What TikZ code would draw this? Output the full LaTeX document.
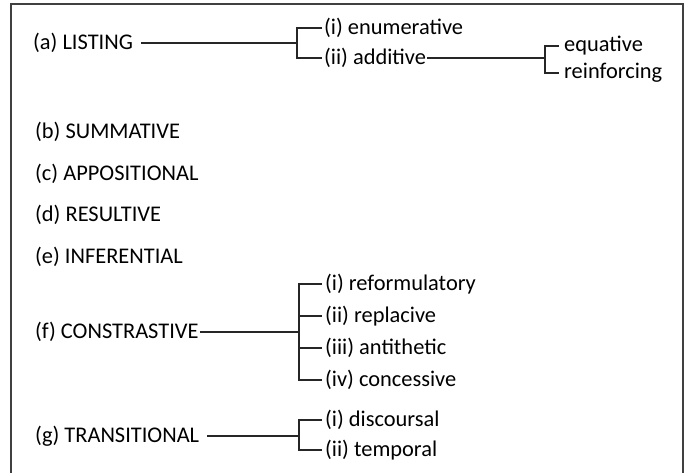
\documentclass[tikz,border=0pt]{standalone}
\usepackage{fontspec}
\setmainfont{Carlito}
\begin{document}
\begin{tikzpicture}[x=1pt,y=-1pt,
  lbl/.style={anchor=west,inner sep=0pt,font=\fontsize{22.4}{25}\selectfont},
  conn/.style={line width=1.1pt,draw=black!85}]
\useasboundingbox (0,0) rectangle (686,472);
\clip (0,0) rectangle (686,472);
\draw[line width=1.6pt,draw=black!75] (11,4) rectangle (683,495);
% (a)
\node[lbl] (a) at (33,43) {(a) LISTING};
\node[lbl] (ai) at (324,28) {(i) enumerative};
\node[lbl] (aii) at (324,58) {(ii) additive};
\node[lbl] (eq) at (564,46) {equative};
\node[lbl] (re) at (564,73) {reinforcing};
\coordinate (ba) at (297,43);
\draw[conn] ([xshift=8pt]a.east) -- (ba);
\draw[conn] ([xshift=-2pt]ai.west) -- (297,28) |- ([xshift=-2pt]aii.west);
\coordinate (bq) at (545,58);
\draw[conn] ([xshift=1pt]aii.east) -- (bq);
\draw[conn] ([xshift=-5pt]eq.west) -- (545,46) |- ([xshift=-5pt]re.west);
% (b)-(e)
\node[lbl] (b) at (35,132) {(b) SUMMATIVE};
\node[lbl] (c) at (35,174) {(c) APPOSITIONAL};
\node[lbl] (d) at (35,215) {(d) RESULTIVE};
\node[lbl] (e) at (35,257) {(e) INFERENTIAL};
% (f)
\node[lbl] (f) at (35,332) {(f) CONSTRASTIVE};
\node[lbl] (fi) at (325,284) {(i) reformulatory};
\node[lbl] (fii) at (325,316) {(ii) replacive};
\node[lbl] (fiii) at (325,348) {(iii) antithetic};
\node[lbl] (fiv) at (325,380) {(iv) concessive};
\coordinate (bf) at (299,332);
\draw[conn] ([xshift=1pt]f.east) -- (bf);
\draw[conn] ([xshift=-3pt]fi.west) -- (299,284) |- ([xshift=-3pt]fiv.west);
\draw[conn] ([xshift=-3pt]fii.west) -- (299,316);
\draw[conn] ([xshift=-3pt]fiii.west) -- (299,348);
% (g)
\node[lbl] (g) at (35,436) {(g) TRANSITIONAL};
\node[lbl] (gi) at (325,420) {(i) discoursal};
\node[lbl] (gii) at (325,450) {(ii) temporal};
\coordinate (bg) at (299,436);
\draw[conn] ([xshift=8pt]g.east) -- (bg);
\draw[conn] ([xshift=-3pt]gi.west) -- (299,420) |- ([xshift=-3pt]gii.west);
\end{tikzpicture}
\end{document}
